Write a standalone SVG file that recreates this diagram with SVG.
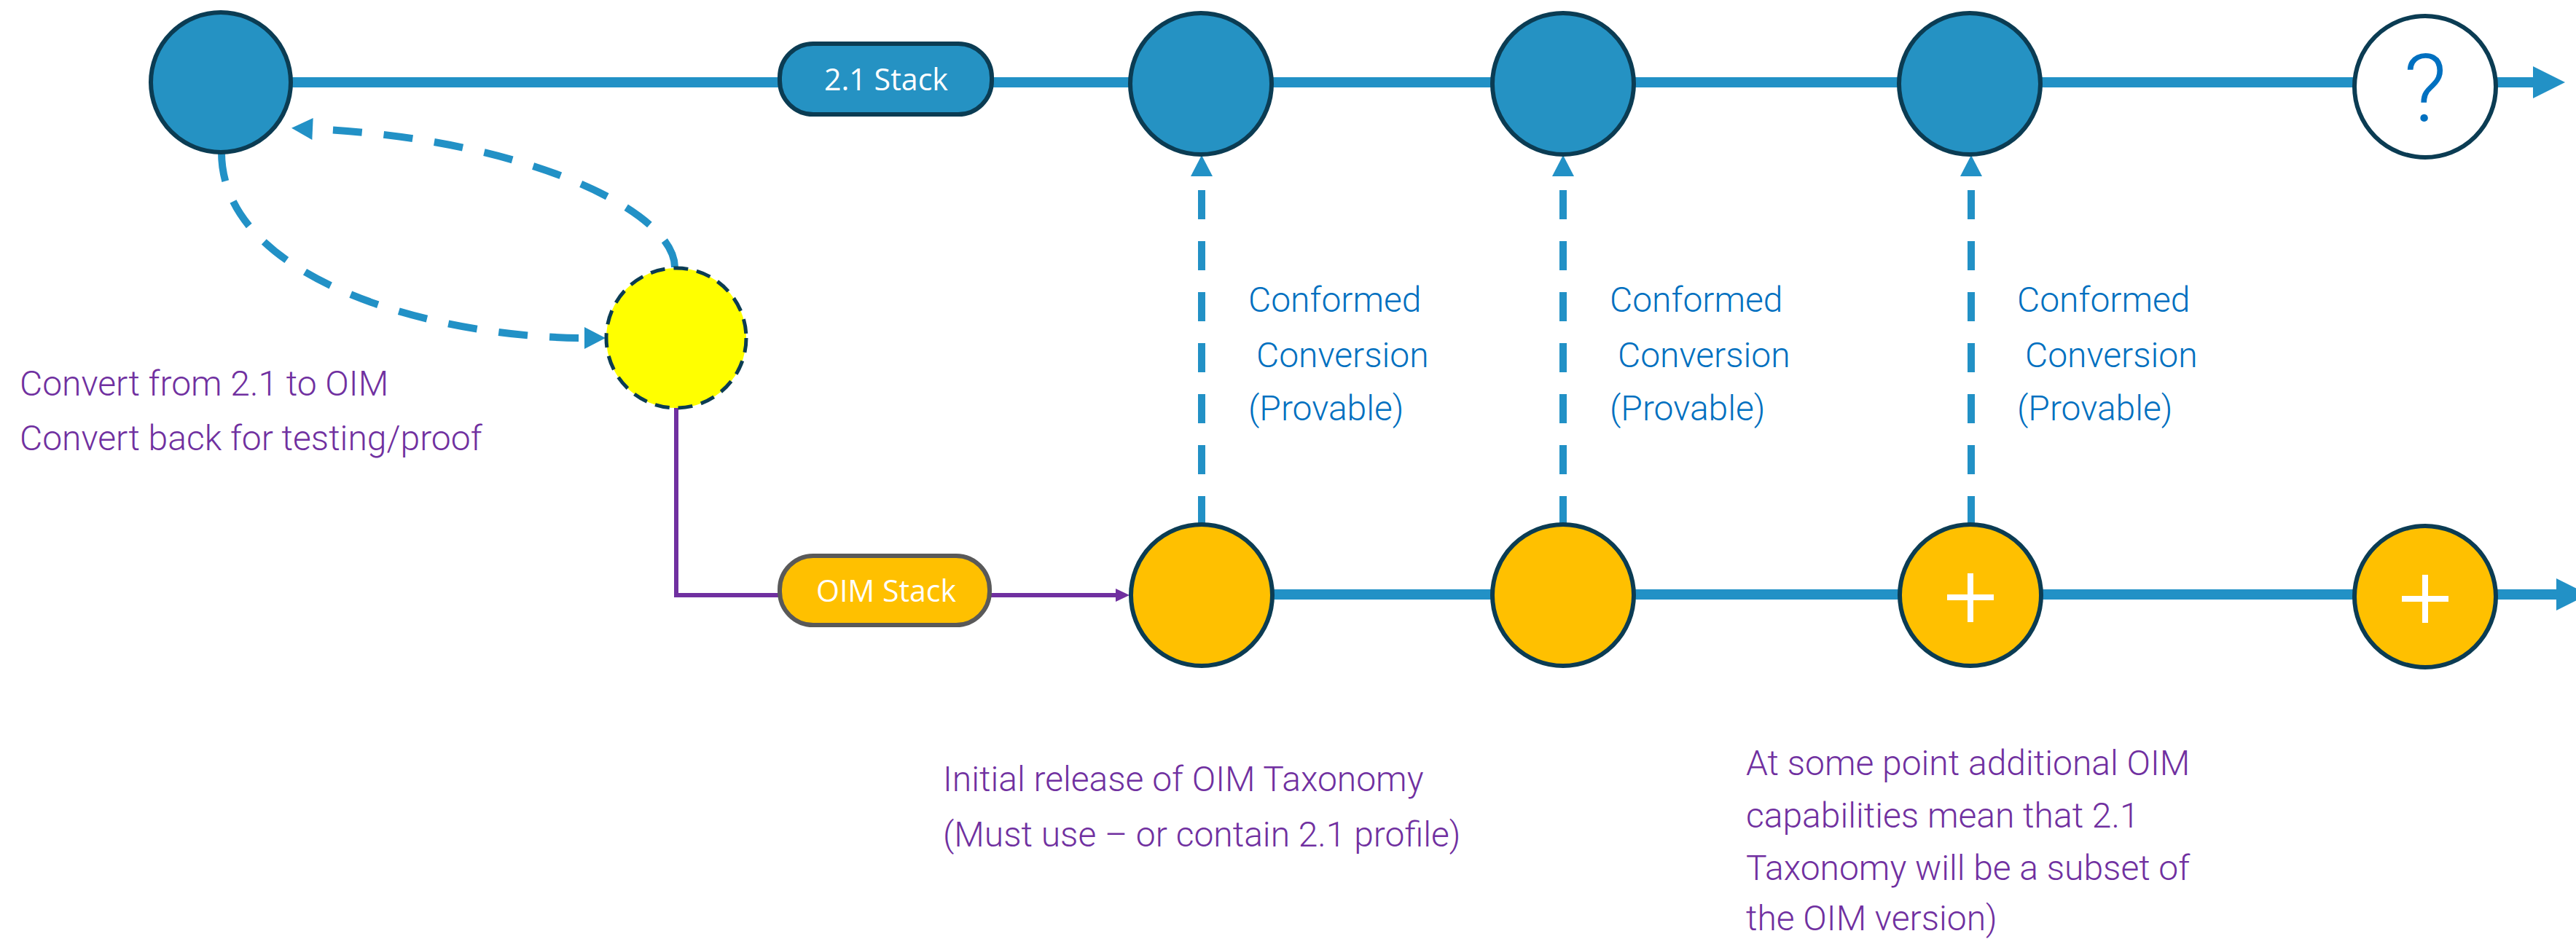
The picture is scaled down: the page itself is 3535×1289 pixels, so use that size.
<svg xmlns="http://www.w3.org/2000/svg" width="3535" height="1289" viewBox="0 0 3535 1289">
<defs>
<style>
.bg{fill:#ffffff}
.main{fill:none;stroke:#2291C6;stroke-width:14}
.dash{fill:none;stroke:#2291C6;stroke-width:10;stroke-dasharray:40 30}
.purple{fill:none;stroke:#7030A0;stroke-width:6}
.blue{fill:#2592C3;stroke:#0B3C53;stroke-width:6}
.orange{fill:#FFC000;stroke:#0B3C53;stroke-width:6}
.open{fill:#ffffff;stroke:#0B3C53;stroke-width:6}
.yellow{fill:#FFFF00;stroke:#0B3C53;stroke-width:5;stroke-dasharray:20 12}
.pillBlue{fill:#2592C3;stroke:#0B3C53;stroke-width:6}
.pillOrange{fill:#FFC000;stroke:#595959;stroke-width:6}
.pillText{font-family:"Open Sans","Liberation Sans",Arial,sans-serif;font-size:42px;fill:#ffffff;text-anchor:middle}
.note{font-family:Roboto,"Liberation Sans",sans-serif;font-weight:300;font-size:48px;fill:#7030A0}
.conf{font-family:Roboto,"Liberation Sans",sans-serif;font-weight:300;font-size:48px;fill:#0070C0}
.q{font-family:Roboto,"Liberation Sans",sans-serif;font-weight:300;font-size:130px;fill:#0070C0;text-anchor:middle}
.plus{stroke:#ffffff;stroke-width:8;fill:none}
</style>
<marker id="bigArrow" markerUnits="userSpaceOnUse" markerWidth="44" markerHeight="44" refX="0" refY="22" orient="auto" overflow="visible">
<path d="M0,0 L44,22 L0,44 Z" fill="#2291C6"/>
</marker>
<marker id="dashArrow" markerUnits="userSpaceOnUse" markerWidth="29" markerHeight="30" refX="0" refY="15" orient="auto" overflow="visible">
<path d="M0,0 L29,15 L0,30 Z" fill="#2291C6"/>
</marker>
<marker id="purpleArrow" markerUnits="userSpaceOnUse" markerWidth="19" markerHeight="18" refX="0" refY="9" orient="auto" overflow="visible">
<path d="M0,0 L19,9 L0,18 Z" fill="#7030A0"/>
</marker>
</defs>
<rect class="bg" x="0" y="0" width="3535" height="1289"/>

<g id="connectors">
<path class="main" d="M400,113 H3476" marker-end="url(#bigArrow)"/>
<path class="main" d="M1746,816 H3508" marker-end="url(#bigArrow)"/>
<path class="dash" d="M1649,721 V242" marker-end="url(#dashArrow)"/>
<path class="dash" d="M2145,721 V242" marker-end="url(#dashArrow)"/>
<path class="dash" d="M2705,721 V242" marker-end="url(#dashArrow)"/>
<path class="dash" d="M304,209 C304,385 600,464 802,464" marker-end="url(#dashArrow)"/>
<path class="dash" d="M926,367 C926,290 720,190 429,177" marker-end="url(#dashArrow)"/>
<path class="purple" d="M928,560 V817 H1531" marker-end="url(#purpleArrow)"/>
</g>

<g id="node-start"><circle class="blue" cx="303" cy="113" r="96"/></g>
<g id="node-21stack"><rect class="pillBlue" x="1070" y="60" width="291" height="97" rx="46"/><text class="pillText" x="1216" y="124" textLength="170" lengthAdjust="spacingAndGlyphs">2.1 Stack</text></g>
<g id="node-top1"><circle class="blue" cx="1648" cy="115" r="97"/></g>
<g id="node-top2"><circle class="blue" cx="2145" cy="115" r="97"/></g>
<g id="node-top3"><circle class="blue" cx="2703" cy="115" r="97"/></g>
<g id="node-future"><circle class="open" cx="3328" cy="119" r="97"/><text class="q" x="3328" y="166">?</text></g>

<g id="node-convert"><circle class="yellow" cx="928" cy="464" r="96"/></g>
<g id="node-oimstack"><rect class="pillOrange" x="1070" y="763" width="288" height="95" rx="46"/><text class="pillText" x="1216" y="826" textLength="192" lengthAdjust="spacingAndGlyphs">OIM Stack</text></g>
<g id="node-bot1"><circle class="orange" cx="1649" cy="817" r="97"/></g>
<g id="node-bot2"><circle class="orange" cx="2145" cy="817" r="97"/></g>
<g id="node-bot3"><circle class="orange" cx="2704" cy="817" r="97"/><path class="plus" d="M2672,820 H2736 M2704,787 V854"/></g>
<g id="node-bot4"><circle class="orange" cx="3328" cy="819" r="97"/><path class="plus" d="M3296,822 H3360 M3328,789 V855"/></g>

<g id="labels">
<text class="note" x="27" y="543">Convert from 2.1 to OIM</text>
<text class="note" x="27" y="618">Convert back for testing/proof</text>

<text class="conf" x="1713" y="428">Conformed</text>
<text class="conf" x="1724" y="504"> Conversion</text>
<text class="conf" x="1713" y="577">(Provable)</text>

<text class="conf" x="2209" y="428">Conformed</text>
<text class="conf" x="2220" y="504"> Conversion</text>
<text class="conf" x="2209" y="577">(Provable)</text>

<text class="conf" x="2768" y="428">Conformed</text>
<text class="conf" x="2779" y="504"> Conversion</text>
<text class="conf" x="2768" y="577">(Provable)</text>

<text class="note" x="1294" y="1086">Initial release of OIM Taxonomy</text>
<text class="note" x="1294" y="1162">(Must use – or contain 2.1 profile)</text>

<text class="note" x="2396" y="1064">At some point additional OIM</text>
<text class="note" x="2396" y="1136">capabilities mean that 2.1</text>
<text class="note" x="2396" y="1208">Taxonomy will be a subset of</text>
<text class="note" x="2396" y="1277">the OIM version)</text>
</g>
</svg>
